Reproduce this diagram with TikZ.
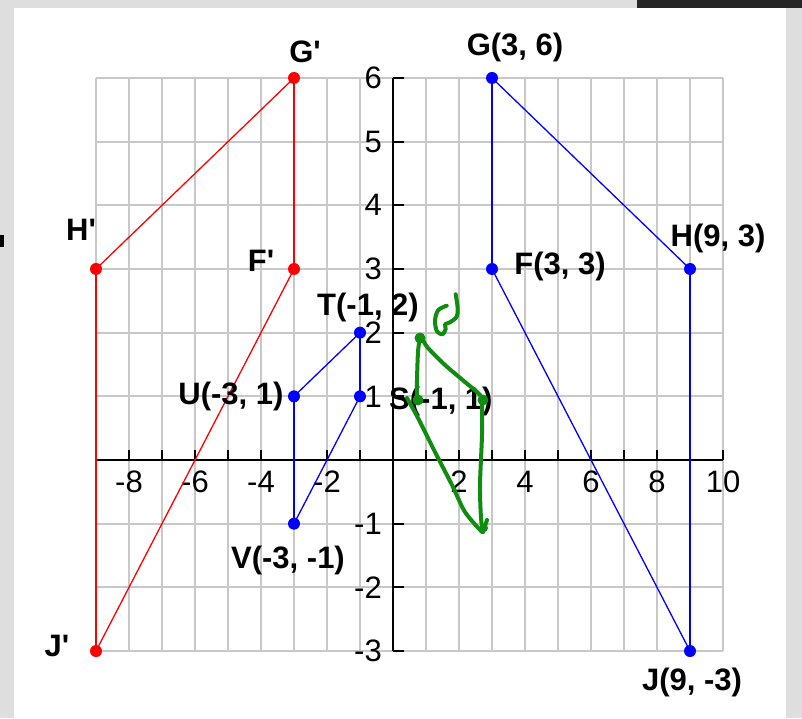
\documentclass[tikz,border=0pt]{standalone}
\usepackage{fontspec}
\setmainfont{Liberation Sans}
\newfontfamily\labfont{Liberation Sans}
\definecolor{bgc}{RGB}{222,222,222}
\definecolor{gridc}{RGB}{200,200,200}
\definecolor{redc}{RGB}{255,0,0}
\definecolor{bluec}{RGB}{0,0,255}
\definecolor{greenc}{RGB}{16,140,16}
\tikzset{
  gridline/.style={draw=gridc, line width=2pt},
  axisline/.style={draw=black, line width=2pt},
  ticklab/.style={font=\labfont\fontsize{31}{31}\selectfont, inner sep=0pt},
  ptlab/.style={font=\labfont\bfseries\fontsize{31}{31}\selectfont, inner sep=0pt},
  vedge/.style={line width=2pt},
  dedge/.style={line width=1.3pt},
  dotr/.style={fill=redc},
  dotb/.style={fill=bluec},
  pen/.style={draw=greenc, line width=4pt, line cap=round, line join=round}
}
\begin{document}
\begin{tikzpicture}[x=1pt,y=-1pt]
% background and frame
\fill[bgc] (0,0) rectangle (802,718);
\fill[white] (14,8) rectangle (786,718);
\fill[black!85] (637,0) rectangle (802,8);
\fill[black] (0,235) rectangle (4,247);
\useasboundingbox (0,0) rectangle (802,718);

\begin{scope}[shift={(393pt,-460pt)}, x=33pt, y=63.67pt]
  % grid
  \foreach \i in {-9,...,10} \draw[gridline] (\i,-3) -- (\i,6);
  \foreach \j in {-3,...,6} \draw[gridline] (-9,\j) -- (10,\j);
  % axes
  \draw[axisline] (-9,0) -- (10,0);
  \draw[axisline] (0,-3) -- (0,6);
  \foreach \i in {-9,...,10} \draw[axisline] (\i,0) -- ++(0pt,10pt);
  \foreach \j in {-3,...,6} \draw[axisline] (0,\j) -- ++(11pt,0pt);
  % tick labels
  \foreach \j in {-3,-2,-1,1,2,3,4,5,6}
    \node[ticklab, anchor=east] (ylab\j) at ([xshift=-11pt]0,\j) {\j};
  \foreach \i in {-8,-6,-4,-2,2,4,6,8,10}
    \node[ticklab] (xlab\i) at ([yshift=-22pt]\i,0) {\i};
  % points
  \coordinate (G) at (3,6);
  \coordinate (H) at (9,3);
  \coordinate (J) at (9,-3);
  \coordinate (F) at (3,3);
  \coordinate (Gp) at (-3,6);
  \coordinate (Hp) at (-9,3);
  \coordinate (Jp) at (-9,-3);
  \coordinate (Fp) at (-3,3);
  \coordinate (T) at (-1,2);
  \coordinate (S) at (-1,1);
  \coordinate (U) at (-3,1);
  \coordinate (V) at (-3,-1);
  % red figure
  \draw[redc, dedge] (Gp) -- (Hp);
  \draw[redc, vedge] (Hp) -- (Jp);
  \draw[redc, dedge] (Jp) -- (Fp);
  \draw[redc, vedge] (Fp) -- (Gp);
  % blue figure
  \draw[bluec, dedge] (G) -- (H);
  \draw[bluec, vedge] (H) -- (J);
  \draw[bluec, dedge] (J) -- (F);
  \draw[bluec, vedge] (F) -- (G);
  % small blue figure
  \draw[bluec, dedge] (U) -- (T);
  \draw[bluec, vedge] (T) -- (S);
  \draw[bluec, dedge] (S) -- (V);
  \draw[bluec, vedge] (V) -- (U);
  % dots
  \foreach \p in {Gp,Hp,Jp,Fp} \fill[dotr] (\p) circle (6pt);
  \foreach \p in {G,H,J,F,T,S,U,V} \fill[dotb] (\p) circle (6pt);
\end{scope}

% point labels
\node[ptlab] (lGp) at (305,52) {G'};
\node[ptlab] (lG) at (515,47) {G(3, 6)};
\node[ptlab] (lHp) at (81,230) {H'};
\node[ptlab] (lFp) at (261,261) {F'};
\node[ptlab] (lF) at (560,266) {F(3, 3)};
\node[ptlab] (lH) at (718,238) {H(9, 3)};
\node[ptlab] (lT) at (368,307) {T(-1, 2)};
\node[ptlab, anchor=west] (lS) at (389,401) {S(-1, 1)};
\node[ptlab] (lU) at (231,396) {U(-3, 1)};
\node[ptlab] (lV) at (288,560) {V(-3, -1)};
\node[ptlab] (lJp) at (57,646) {J'};
\node[ptlab] (lJ) at (692,682) {J(9, -3)};

% green freehand marks
\draw[pen] plot[smooth] coordinates {(446.7,305.7) (438.3,310) (435,320) (436.7,331) (442.3,334.3) (445.7,329) (445,324.3) (450,322.3) (456.7,316.7) (457.7,308.3) (455.7,294.3)};
\draw[pen] plot[smooth] coordinates {(420,336) (418,352) (417,380) (417,398)};
\draw[pen] plot[smooth] coordinates {(407,398) (418,418) (435,452) (452,485) (465,512) (482,532)};
\draw[pen] plot[smooth] coordinates {(423,340) (428,348) (445,365) (465,382) (480,395) (482,404) (482,435) (480,485) (481,518) (483,532)};
\draw[pen] (483,532) -- (487,520);
\fill[greenc] (420,338) circle (5.5pt);
\fill[greenc] (418,400) circle (5.5pt);
\fill[greenc] (483,400) circle (5.5pt);
\fill[greenc] (484,528) circle (4pt);
\end{tikzpicture}
\end{document}
